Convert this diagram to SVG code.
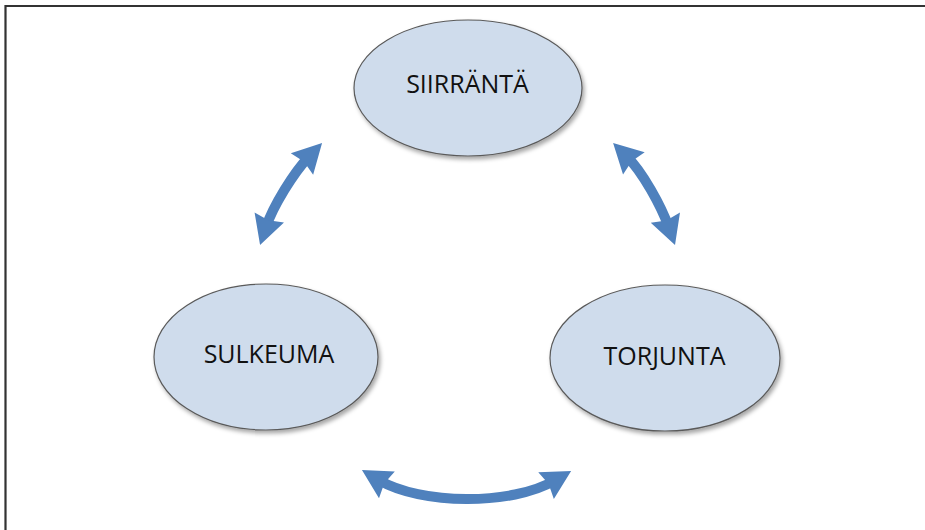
<svg xmlns="http://www.w3.org/2000/svg" width="925" height="530" viewBox="0 0 925 530">
  <defs>
    <style>
      .node ellipse { fill: #cfdcec; stroke: #5a5a5a; stroke-width: 1.2; filter: url(#shadow); }
      .node text { font-family: "Open Sans", "Noto Sans", "Liberation Sans", sans-serif; font-size: 25px; fill: #111; text-anchor: middle; }
      .conn { fill: none; stroke: #4f81bd; stroke-width: 10; stroke-linecap: butt; marker-start: url(#head); marker-end: url(#head); }
    </style>
    <filter id="shadow" x="-20%" y="-20%" width="140%" height="140%">
      <feDropShadow dx="2" dy="3" stdDeviation="2" flood-color="#000" flood-opacity="0.35"/>
    </filter>
    <marker id="head" markerUnits="userSpaceOnUse" refX="10" refY="0" markerWidth="40" markerHeight="40" viewBox="-2 -20 40 40" orient="auto-start-reverse" overflow="visible">
      <path d="M0,-15.5 L29,0 L0,15.5 L3,0 Z" fill="#4f81bd"/>
    </marker>
  </defs>
  <rect width="925" height="530" fill="#fff"/>
  <path d="M5.5,530 V6 H925" fill="none" stroke="#333" stroke-width="2.2"/>

  <g id="connectors">
    <path class="conn" d="M266.1,227 C273.1,206.1 293.7,172.5 308.9,156.7"/>
    <path class="conn" d="M668.7,227.1 C661.4,206.4 642.5,171.7 626.7,156.3"/>
    <path class="conn" d="M378.3,479.7 C421.3,505.2 511.7,505.5 554.7,480.5"/>
  </g>

  <g id="siirranta" class="node">
    <ellipse cx="468" cy="88" rx="114" ry="68"/>
    <text x="467.5" y="93">SIIRRÄNTÄ</text>
  </g>
  <g id="sulkeuma" class="node">
    <ellipse cx="266" cy="357" rx="112" ry="73"/>
    <text x="269" y="363">SULKEUMA</text>
  </g>
  <g id="torjunta" class="node">
    <ellipse cx="665" cy="358" rx="115" ry="73"/>
    <text x="664.5" y="365">TORJUNTA</text>
  </g>
</svg>
